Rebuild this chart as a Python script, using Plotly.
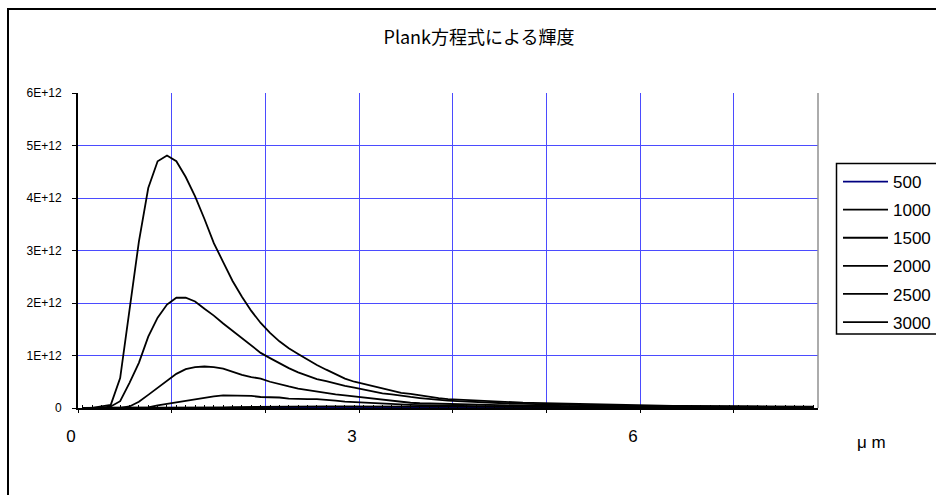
import plotly.graph_objects as go

# Wavelength categories (μm)
wavelength_um = [
    0.1, 0.2, 0.3, 0.4, 0.5, 0.6, 0.7, 0.8, 0.9, 1.0,
    1.1, 1.2, 1.3, 1.4, 1.5, 1.6, 1.7, 1.8, 1.9, 2.0,
    2.1, 2.2, 2.3, 2.4, 2.5, 2.6, 2.7, 2.8, 2.9, 3.0,
    3.1, 3.2, 3.3, 3.4, 3.5, 3.6, 3.7, 3.8, 3.9, 4.0,
    4.1, 4.2, 4.3, 4.4, 4.5, 4.6, 4.7, 4.8, 4.9, 5.0,
    5.1, 5.2, 5.3, 5.4, 5.5, 5.6, 5.7, 5.8, 5.9, 6.0,
    6.1, 6.2, 6.3, 6.4, 6.5, 6.6, 6.7, 6.8, 6.9, 7.0,
    7.1, 7.2, 7.3, 7.4, 7.5, 7.6, 7.7, 7.8, 7.9,
]

# Radiance per temperature, in units of 1E+12
T500 = [
    0, 0, 0, 0, 0, 0, 0, 0, 0, 0,
    0, 0, 0, 0, 0, 0, 0, 0, 0, 0,
    0, 0, 0, 0.0001, 0.0001, 0.0001, 0.0002, 0.0002, 0.0003, 0.0003,
    0.0004, 0.0004, 0.0005, 0.0005, 0.0006, 0.0006, 0.0007, 0.0007, 0.0007, 0.0008,
    0.0008, 0.0008, 0.0009, 0.0009, 0.0009, 0.0009, 0.0009, 0.0010, 0.0010, 0.0010,
    0.0010, 0.0010, 0.0010, 0.0010, 0.0010, 0.0010, 0.0010, 0.0010, 0.0010, 0.0010,
    0.0010, 0.0010, 0.0010, 0.0010, 0.0010, 0.0009, 0.0009, 0.0009, 0.0009, 0.0009,
    0.0009, 0.0009, 0.0009, 0.0009, 0.0008, 0.0008, 0.0008, 0.0008, 0.0008,
]
T1000 = [
    0, 0, 0, 0, 0, 0, 0, 0, 0, 0,
    0, 0, 0, 0.004, 0.008, 0.012, 0.015, 0.018, 0.020, 0.022,
    0.024, 0.026, 0.027, 0.028, 0.029, 0.030, 0.031, 0.031, 0.032, 0.032,
    0.032, 0.032, 0.031, 0.031, 0.030, 0.030, 0.029, 0.029, 0.028, 0.027,
    0.026, 0.026, 0.025, 0.024, 0.023, 0.023, 0.022, 0.021, 0.021, 0.020,
    0.019, 0.019, 0.018, 0.018, 0.017, 0.017, 0.016, 0.016, 0.015, 0.015,
    0.014, 0.014, 0.014, 0.013, 0.013, 0.012, 0.012, 0.012, 0.011, 0.011,
    0.011, 0.010, 0.010, 0.010, 0.010, 0.009, 0.009, 0.009, 0.009,
]
T1500 = [
    0, 0, 0, 0, 0, 0, 0, 0.01, 0.05, 0.08,
    0.11, 0.14, 0.17, 0.20, 0.22, 0.24, 0.24, 0.24, 0.23, 0.21,
    0.205, 0.20, 0.18, 0.17, 0.17, 0.17, 0.16, 0.14, 0.12, 0.11,
    0.105, 0.10, 0.09, 0.08, 0.065, 0.06, 0.055, 0.05, 0.047, 0.044,
    0.041, 0.038, 0.036, 0.034, 0.032, 0.030, 0.028, 0.027, 0.026, 0.025,
    0.024, 0.023, 0.022, 0.021, 0.020, 0.019, 0.018, 0.018, 0.017, 0.016,
    0.016, 0.015, 0.015, 0.014, 0.014, 0.013, 0.013, 0.012, 0.012, 0.012,
    0.011, 0.011, 0.011, 0.010, 0.010, 0.010, 0.009, 0.009, 0.009,
]
T2000 = [
    0, 0, 0, 0, 0, 0.03, 0.12, 0.25, 0.38, 0.52,
    0.65, 0.74, 0.78, 0.79, 0.78, 0.75, 0.69, 0.63, 0.59, 0.56,
    0.50, 0.45, 0.41, 0.37, 0.34, 0.31, 0.28, 0.26, 0.24, 0.22,
    0.20, 0.17, 0.15, 0.13, 0.11, 0.10, 0.09, 0.085, 0.08, 0.075,
    0.07, 0.066, 0.062, 0.058, 0.055, 0.052, 0.049, 0.046, 0.043, 0.040,
    0.038, 0.036, 0.034, 0.032, 0.030, 0.029, 0.028, 0.027, 0.026, 0.025,
    0.024, 0.023, 0.022, 0.021, 0.020, 0.019, 0.019, 0.018, 0.018, 0.017,
    0.017, 0.016, 0.016, 0.015, 0.015, 0.014, 0.014, 0.013, 0.013,
]
T2500 = [
    0, 0, 0, 0.03, 0.13, 0.48, 0.86, 1.36, 1.72, 1.97,
    2.10, 2.10, 2.03, 1.89, 1.76, 1.61, 1.47, 1.32, 1.18, 1.05,
    0.95, 0.85, 0.76, 0.68, 0.61, 0.55, 0.51, 0.46, 0.42, 0.39,
    0.35, 0.31, 0.28, 0.26, 0.23, 0.21, 0.19, 0.17, 0.15, 0.14,
    0.13, 0.12, 0.11, 0.10, 0.095, 0.09, 0.085, 0.08, 0.075, 0.07,
    0.066, 0.062, 0.058, 0.055, 0.052, 0.049, 0.046, 0.043, 0.040, 0.038,
    0.036, 0.035, 0.034, 0.033, 0.032, 0.031, 0.030, 0.029, 0.028, 0.027,
    0.026, 0.025, 0.024, 0.023, 0.022, 0.021, 0.020, 0.019, 0.018,
]
T3000 = [
    0, 0, 0.03, 0.06, 0.57, 1.85, 3.17, 4.19, 4.70, 4.81,
    4.70, 4.40, 4.03, 3.60, 3.14, 2.78, 2.42, 2.12, 1.85, 1.62,
    1.43, 1.27, 1.14, 1.03, 0.92, 0.82, 0.73, 0.64, 0.56, 0.50,
    0.46, 0.41, 0.37, 0.33, 0.29, 0.27, 0.24, 0.21, 0.19, 0.17,
    0.16, 0.15, 0.14, 0.13, 0.12, 0.11, 0.105, 0.10, 0.096, 0.092,
    0.088, 0.082, 0.077, 0.072, 0.068, 0.064, 0.060, 0.055, 0.045, 0.043,
    0.042, 0.041, 0.040, 0.039, 0.038, 0.037, 0.036, 0.035, 0.034, 0.033,
    0.032, 0.031, 0.030, 0.029, 0.028, 0.027, 0.026, 0.025, 0.024,
]

series_names = ["500", "1000", "1500", "2000", "2500", "3000"]
series_values = [T500, T1000, T1500, T2000, T2500, T3000]
series_colors = ["#000080", "#000000", "#000000", "#000000", "#000000", "#000000"]
UNIT = 1e12

y_tick_values = [0, 1e12, 2e12, 3e12, 4e12, 5e12, 6e12]
y_tick_labels = ["0", "1E+12", "2E+12", "3E+12", "4E+12", "5E+12", "6E+12"]

# category boundaries every 10 wavelengths; labels every third boundary
x_tick_values = [0.05, 1.05, 2.05, 3.05, 4.05, 5.05, 6.05, 7.05]
x_tick_labels = ["0", "", "", "3", "", "", "6", ""]

TEXT_FONT = "Liberation Sans, Arial, sans-serif"
JP_FONT = "Noto Sans CJK JP, sans-serif"
GRID_BLUE = "#4b4bff"

fig = go.Figure()
for name, vals, color in zip(series_names, series_values, series_colors):
    fig.add_trace(go.Scatter(
        x=wavelength_um,
        y=[v * UNIT for v in vals],
        mode="lines",
        name=name,
        legendgroup=name,
        line=dict(color=color, width=1.8),
    ))

W, H = 936, 495
L, R, T, B = 78, 118, 93, 87
pw, ph = W - L - R, H - T - B


def px_x(px):
    return (px - L) / pw


def px_y(py):
    return (H - B - py) / ph


fig.update_layout(
    width=W, height=H,
    margin=dict(l=L, r=R, t=T, b=B, pad=0, autoexpand=False),
    paper_bgcolor="white",
    plot_bgcolor="white",
    showlegend=True,
    legend=dict(
        x=px_x(838), y=px_y(164), xanchor="left", yanchor="top",
        font=dict(family=TEXT_FONT, size=17, color="black"),
        bgcolor="rgba(0,0,0,0)", borderwidth=0,
        tracegroupgap=3, itemwidth=45,
    ),
    title=dict(
        text="Plank方程式による輝度",
        x=479 / W, xanchor="center",
        y=1 - 38 / H, yanchor="middle",
        font=dict(family=JP_FONT, size=18, color="black"),
    ),
    xaxis=dict(
        range=[0.05, 7.95],
        tickmode="array", tickvals=x_tick_values, ticktext=x_tick_labels,
        showgrid=True, gridcolor=GRID_BLUE, gridwidth=1,
        showline=True, linecolor="black", linewidth=2,
        ticks="outside", ticklen=3, tickcolor="black", tickwidth=1,
        ticklabelshift=-7, ticklabelstandoff=9,
        tickfont=dict(family=TEXT_FONT, size=17, color="black"),
        minor=dict(ticks="inside", tickvals=wavelength_um, ticklen=3,
                   tickcolor="black", tickwidth=1, showgrid=False),
        zeroline=False, fixedrange=True,
    ),
    yaxis=dict(
        range=[0, 6e12],
        tickmode="array", tickvals=y_tick_values, ticktext=y_tick_labels,
        showgrid=True, gridcolor=GRID_BLUE, gridwidth=1,
        showline=True, linecolor="black", linewidth=2,
        ticks="outside", ticklen=4, tickcolor="black", tickwidth=1,
        ticklabelstandoff=8,
        tickfont=dict(family=TEXT_FONT, size=12, color="black"),
        zeroline=False, fixedrange=True,
    ),
    annotations=[
        dict(text="μ m", x=px_x(872), y=px_y(442), xref="paper", yref="paper",
             xanchor="center", yanchor="middle", showarrow=False,
             font=dict(family=TEXT_FONT, size=17, color="black")),
    ],
    shapes=[
        # right border of plot area
        dict(type="line", xref="paper", yref="paper", x0=1, x1=1, y0=0, y1=1,
             line=dict(color="#909090", width=1.5)),
        # outer chart frame
        dict(type="rect", xref="paper", yref="paper",
             x0=px_x(8), x1=px_x(960), y0=px_y(520), y1=px_y(9),
             line=dict(color="black", width=2), layer="below"),
        # legend frame
        dict(type="rect", xref="paper", yref="paper",
             x0=px_x(836.5), x1=px_x(960), y0=px_y(334), y1=px_y(163.5),
             line=dict(color="black", width=1.5)),
    ],
)

fig.write_html("out.html")
